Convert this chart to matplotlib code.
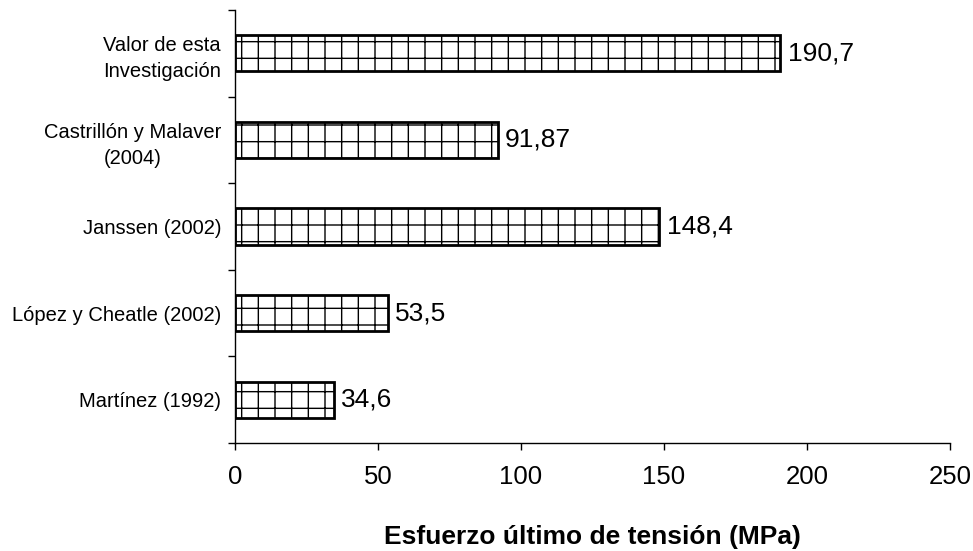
import numpy as np
import matplotlib.pyplot as plt
from matplotlib.ticker import FixedLocator, NullFormatter

plt.rcParams['font.family'] = ['Liberation Sans', 'DejaVu Sans']
plt.rcParams['hatch.linewidth'] = 1.0
plt.rcParams['hatch.color'] = '#222222'

# tensile strength, top to bottom
categories = ['Valor de esta\nInvestigación', 'Castrillón y Malaver\n(2004)',
              'Janssen (2002)', 'López y Cheatle (2002)', 'Martínez (1992)']
values = [190.7, 91.87, 148.4, 53.5, 34.6]
value_labels = ['190,7', '91,87', '148,4', '53,5', '34,6']
x_ticks = [0, 50, 100, 150, 200, 250]

fig = plt.figure(figsize=(9.73, 5.51), dpi=100)
ax = fig.add_axes([0.2415, 0.196, 0.7349, 0.786])

n = len(categories)
ypos = np.arange(n)[::-1]
bars = ax.barh(ypos, values, height=0.42, color='white', edgecolor='black',
               linewidth=2.0, hatch='+')

for b, lab in zip(bars, value_labels):
    ax.text(b.get_width() + 2.5, b.get_y() + b.get_height() / 2, lab,
            va='center', ha='left', fontsize=19)

ax.set_xlim(0, 250)
ax.set_ylim(-0.5, n - 0.5)
ax.set_xticks(x_ticks)
ax.tick_params(axis='x', labelsize=18.5, length=5, width=1, pad=11)

# boundary ticks between categories, labels centred on each bar
ax.yaxis.set_major_locator(FixedLocator(np.arange(n + 1) - 0.5))
ax.yaxis.set_major_formatter(NullFormatter())
ax.set_yticks(ypos, minor=True)
ax.set_yticklabels(categories, minor=True, fontsize=14.5)
ax.tick_params(axis='y', which='major', length=5, width=1)
ax.tick_params(axis='y', which='minor', length=0, pad=10)
for t in ax.get_yticklabels(minor=True):
    t.set_multialignment('center')
    t.set_linespacing(1.45)

for s in ['top', 'right']:
    ax.spines[s].set_visible(False)
ax.spines['left'].set_linewidth(1)
ax.spines['bottom'].set_linewidth(1)

ax.set_xlabel('Esfuerzo último de tensión (MPa)', fontsize=19,
              fontweight='bold', labelpad=26)

fig.savefig('out.png', dpi=100)
